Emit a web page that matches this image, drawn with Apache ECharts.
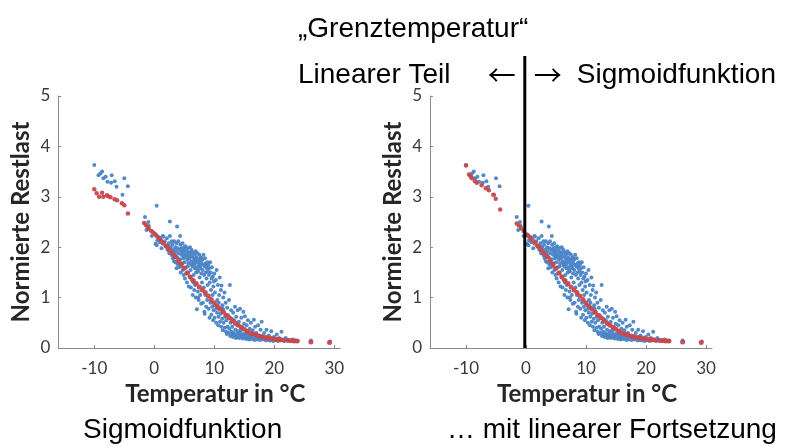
<!DOCTYPE html>
<html>
<head>
<meta charset="utf-8">
<script src="https://cdn.jsdelivr.net/npm/echarts@6/dist/echarts.min.js"></script>
<style>
  html, body { margin: 0; padding: 0; background: #ffffff; }
  #chart { width: 809px; height: 448px; }
</style>
</head>
<body>
<div id="chart"></div>
<script>
// Messwerte: Temperatur in °C, normierte Restlast
const messpunkte = [
  [-10,3.63],[-9.3,3.43],[-9.0,3.46],[-8.7,3.5],[-8.5,3.37],[-8.1,3.4],[-7.8,3.3],[-7.1,3.43],[-7.2,3.28],
  [-6.6,3.31],[-6.3,3.2],[-5.0,3.37],[-5.3,3.04],[-4.4,3.21],[-1.55,2.6],[-1.0,2.5],[-1.3,2.34],[-0.9,2.42],
  [-0.4,2.22],[0.4,2.82],[0.3,2.24],[0.2,2.07],[0.4,2.04],[0.95,2.18],[1.5,2.21],[2.6,2.51],[3.8,2.41],[4.3,2.22],
  [0.5,2.14],[0.9,2.1],[1.2,1.98],[1.4,2.22],[1.7,2.12],[1.9,2.02],[0.7,2.2],
  [2.1,2.18],[2.2,1.95],[2.4,2.08],[2.5,1.88],[2.6,2.22],[2.7,2.0],[2.8,1.92],[2.9,2.12],[2.3,2.02],[2.95,1.84],
  [3.0,2.05],[3.1,1.78],[3.2,1.95],[3.3,2.12],[3.4,1.86],[3.5,1.7],[3.5,2.0],[3.6,1.92],[3.7,2.08],[3.8,1.8],
  [3.9,1.66],[3.9,1.98],[3.3,1.72],[3.7,1.58],
  [4.0,2.12],[4.05,1.88],[4.1,1.6],[4.2,1.95],[4.3,1.76],[4.35,2.05],[4.4,1.5],[4.5,1.85],[4.55,1.98],[4.6,1.68],
  [4.7,2.08],[4.75,1.55],[4.8,1.9],[4.85,1.78],[4.9,1.45],[4.95,2.0],[4.2,1.68],[4.6,1.92],[4.45,1.62],[4.9,1.82],
  [5.0,1.95],[5.05,1.7],[5.1,1.38],[5.15,1.86],[5.2,2.02],[5.3,1.6],[5.35,1.8],[5.4,1.92],[5.45,1.3],[5.5,1.75],
  [5.55,1.98],[5.6,1.5],[5.65,1.85],[5.7,1.68],[5.75,1.22],[5.8,1.9],[5.85,1.78],[5.9,1.42],[5.95,2.0],[5.3,1.48],
  [5.6,1.62],[5.9,1.82],
  [6.0,1.88],[6.05,1.55],[6.1,1.2],[6.15,1.72],[6.2,1.95],[6.25,1.35],[6.3,1.82],[6.35,1.62],[6.4,1.05],[6.45,1.9],
  [6.5,1.7],[6.55,1.45],[6.6,1.78],[6.65,1.15],[6.7,1.86],[6.75,1.58],[6.8,1.25],[6.85,1.74],[6.9,1.92],[6.95,1.5],
  [6.2,1.66],[6.5,1.3],[6.7,1.66],[6.9,1.0],
  [7.0,1.8],[7.05,1.6],[7.1,0.77],[7.15,1.7],[7.2,1.88],[7.25,1.12],[7.3,1.52],[7.35,1.76],[7.4,0.95],[7.45,1.65],
  [7.5,1.85],[7.55,1.4],[7.6,1.72],[7.65,1.05],[7.7,1.58],[7.75,1.8],[7.8,0.88],[7.85,1.48],[7.9,1.68],[7.95,1.3],
  [7.3,1.0],[7.6,1.62],[7.9,1.78],[7.2,1.55],
  [8.0,1.75],[8.05,1.55],[8.1,0.9],[8.15,1.65],[8.2,1.85],[8.25,1.2],[8.3,1.45],[8.35,0.72],[8.4,1.62],[8.45,1.78],
  [8.5,1.05],[8.55,1.5],[8.6,1.68],[8.65,0.82],[8.7,1.38],[8.75,1.58],[8.8,0.95],[8.85,1.7],[8.9,1.25],[8.95,1.52],
  [8.4,0.68],[8.7,1.62],
  [9.0,1.65],[9.05,0.78],[9.1,1.45],[9.15,1.58],[9.2,0.6],[9.25,1.3],[9.3,1.7],[9.35,0.9],[9.4,1.5],[9.45,1.15],
  [9.5,0.66],[9.55,1.38],[9.6,1.6],[9.65,0.82],[9.7,1.05],[9.75,1.42],[9.8,0.55],[9.85,1.22],[9.9,0.75],[9.95,1.32],
  [10.0,1.48],[10.05,0.6],[10.1,1.1],[10.2,0.85],[10.25,1.35],[10.3,0.5],[10.4,1.55],[10.45,0.7],[10.5,0.95],
  [10.6,1.25],[10.65,0.45],[10.7,0.62],[10.8,1.05],[10.85,0.8],[10.9,1.4],[10.95,0.52],[10.35,0.78],[10.75,0.9],
  [11.0,0.68],[11.1,1.15],[11.15,0.42],[11.2,1.24],[11.3,0.58],[11.35,0.85],[11.4,0.35],[11.5,1.0],[11.55,0.5],
  [11.6,0.72],[11.7,1.1],[11.75,0.4],[11.8,0.62],[11.9,0.9],[11.95,0.32],[11.45,0.78],
  [12.0,0.55],[12.1,0.28],[12.15,0.8],[12.2,0.42],[12.3,0.65],[12.35,0.3],[12.45,0.95],[12.5,0.38],[12.6,1.25],
  [12.65,0.24],[12.7,0.5],[12.8,0.75],[12.85,0.32],[12.9,0.58],[12.95,0.27],
  [13.0,0.42],[13.1,0.22],[13.15,0.7],[13.2,0.3],[13.3,0.55],[13.35,0.25],[13.45,0.82],[13.5,0.36],[13.6,0.2],
  [13.65,0.62],[13.7,0.28],[13.8,0.46],[13.85,0.22],[13.9,0.75],[13.95,0.33],
  [14.0,0.26],[14.1,0.52],[14.15,0.2],[14.3,0.78],[14.35,0.3],[14.45,0.22],[14.5,0.6],[14.6,0.25],[14.7,0.4],
  [14.75,0.19],[14.85,0.72],[14.9,0.28],[14.95,0.48],[14.4,0.35],
  [15.0,0.22],[15.1,0.63],[15.2,0.27],[15.3,0.18],[15.4,0.45],[15.5,0.21],[15.6,0.55],[15.7,0.25],[15.8,0.17],
  [15.9,0.38],[15.35,0.3],[15.75,0.2],
  [16.0,0.24],[16.1,0.5],[16.25,0.18],[16.4,0.35],[16.5,0.22],[16.6,0.56],[16.7,0.16],[16.8,0.42],[16.9,0.2],[16.45,0.28],
  [17.0,0.3],[17.15,0.17],[17.3,0.45],[17.45,0.21],[17.6,0.16],[17.7,0.36],[17.85,0.19],[17.9,0.52],[17.95,0.24],
  [18.1,0.17],[18.3,0.3],[18.45,0.2],[18.6,0.15],[18.7,0.36],[18.85,0.22],[18.95,0.16],
  [19.1,0.25],[19.3,0.15],[19.5,0.33],[19.65,0.18],[19.8,0.14],[19.95,0.22],
  [20.2,0.16],[20.4,0.27],[20.6,0.14],[20.8,0.2],[20.95,0.15],
  [21.2,0.32],[21.4,0.16],[21.7,0.14],[21.9,0.2],
  [22.3,0.16],[22.7,0.14],[23.1,0.17],[23.5,0.15],[23.9,0.14],
  [26.1,0.15],[29.3,0.13]
];

// Sigmoid-Modellwerte oberhalb der Grenztemperatur (beide Varianten)
const sigmoidWarm = [
  [1.5,2.08],[2.0,2.02],[2.5,1.95],[3.0,1.88],[3.5,1.81],[4.0,1.73],[4.5,1.66],[5.0,1.58],[5.5,1.49],[6.0,1.41],
  [6.5,1.34],[7.0,1.28],[7.5,1.21],[8.0,1.15],[8.5,1.1],[9.0,1.03],[9.5,0.96],[10.0,0.9],[10.5,0.83],[11.0,0.77],
  [11.5,0.71],[12.0,0.65],[12.5,0.6],[13.0,0.54],[13.5,0.49],[14.0,0.45],[14.5,0.41],[15.0,0.37],[15.5,0.33],
  [16.0,0.3],[16.5,0.28],[17.0,0.26],[17.5,0.24],[18.0,0.22],[18.5,0.21],[19.0,0.2],[19.5,0.19],[20.0,0.18],
  [20.5,0.17],[21.0,0.17],[21.5,0.16],[22.3,0.15],[22.8,0.15],[23.3,0.14],[23.8,0.14],[26.1,0.12],[29.2,0.11]
];

// reine Sigmoidfunktion im kalten Bereich
const sigmoidKalt = [
  [-10,3.15],[-9.6,3.07],[-9.2,3.0],[-8.7,3.08],[-8.5,3.0],[-7.9,3.03],[-7.7,3.01],[-7.3,2.99],[-6.6,2.95],
  [-6.2,2.93],[-5.4,2.87],[-5.0,2.83],[-4.4,2.67],[-1.7,2.48],[-1.4,2.44],[-1.1,2.4],[-0.9,2.36],[-0.5,2.32],
  [-0.2,2.29],[0.1,2.26],[0.4,2.22],[0.8,2.18],[1.1,2.14]
];

// lineare Fortsetzung unterhalb der Grenztemperatur
const linearKalt = [
  [-10,3.62],[-9.5,3.44],[-9.2,3.4],[-9.0,3.37],[-8.5,3.31],[-8.2,3.28],[-7.4,3.23],[-6.7,3.17],[-6.2,3.13],
  [-5.45,3.04],[-5.05,2.96],[-4.3,2.75],[-1.55,2.47],[-1.2,2.43],[-0.8,2.37],[-0.4,2.32],[0.1,2.25],[0.4,2.22],
  [0.7,2.19],[1.1,2.14]
];

const xTicks = [-10, 0, 10, 20, 30];
const grenztemperatur = -0.2;

const blau = '#4a84c6';
const rot = '#c9474b';
const achsenFarbe = '#8a8a8a';
const schrift = 'Lato, "Noto Sans", sans-serif';

function xAchse(gridIndex) {
  return {
    gridIndex: gridIndex,
    type: 'value',
    min: -16,
    max: 31,
    name: 'Temperatur in °C',
    nameLocation: 'middle',
    nameGap: 34,
    nameTextStyle: { fontFamily: schrift, fontWeight: 'bold', fontSize: 24, color: '#262626', verticalAlign: 'top', padding: [0, 0, 0, 32] },
    axisLine: { show: true, onZero: false, lineStyle: { color: achsenFarbe, width: 1 } },
    axisTick: { show: true, inside: true, length: 3, customValues: xTicks, lineStyle: { color: achsenFarbe } },
    axisLabel: { customValues: xTicks, margin: 12, fontFamily: schrift, fontSize: 17, color: '#3a3a3a' },
    splitLine: { show: false }
  };
}

function yAchse(gridIndex) {
  return {
    gridIndex: gridIndex,
    type: 'value',
    min: 0,
    max: 5,
    interval: 1,
    name: 'Normierte Restlast',
    nameLocation: 'middle',
    nameGap: 25,
    nameRotate: 90,
    nameTextStyle: { fontFamily: schrift, fontWeight: 'bold', fontSize: 24, color: '#262626' },
    axisLine: { show: true, onZero: false, lineStyle: { color: achsenFarbe, width: 1 } },
    axisTick: { show: true, inside: true, length: 3, lineStyle: { color: achsenFarbe } },
    axisLabel: { margin: 8, fontFamily: schrift, fontSize: 17, color: '#3a3a3a' },
    splitLine: { show: false }
  };
}

function punkte(name, data, achse, farbe, groesse) {
  return {
    name: name,
    type: 'scatter',
    xAxisIndex: achse,
    yAxisIndex: achse,
    data: data,
    symbol: 'circle',
    symbolSize: groesse,
    itemStyle: { color: farbe, opacity: 0.95 },
    silent: true,
    animation: false
  };
}

const textSchrift = '"Liberation Sans", Arial, sans-serif';
function text(id, inhalt, x, y, ausrichtung, font, groesse) {
  return {
    id: id,
    type: 'text',
    x: x,
    y: y,
    style: {
      text: inhalt,
      fontFamily: font || textSchrift,
      fontSize: groesse || 28,
      fill: '#000000',
      align: ausrichtung,
      verticalAlign: 'middle'
    }
  };
}

const chart = echarts.init(document.getElementById('chart'), null, { renderer: 'canvas' });
chart.setOption({
  backgroundColor: '#ffffff',
  animation: false,
  grid: [
    { left: 58.3, top: 96, width: 282, height: 252 },
    { left: 430, top: 96, width: 282, height: 252 }
  ],
  xAxis: [xAchse(0), xAchse(1)],
  yAxis: [yAchse(0), yAchse(1)],
  series: [
    punkte('Messwerte', messpunkte, 0, blau, 4),
    punkte('Sigmoid kalt', sigmoidKalt, 0, rot, 4.5),
    punkte('Sigmoid', sigmoidWarm, 0, rot, 5),
    punkte('Messwerte', messpunkte, 1, blau, 4),
    punkte('Linear', linearKalt, 1, rot, 4.5),
    punkte('Sigmoid', sigmoidWarm, 1, rot, 5)
  ]
});

// Grenztemperatur als senkrechte Linie, über den Diagrammrand hinaus bis zur Überschrift
const xLinie = chart.convertToPixel({ xAxisIndex: 1 }, grenztemperatur);
const yBoden = chart.convertToPixel({ yAxisIndex: 1 }, 0);
chart.setOption({
  graphic: [
    text('titel', '„Grenztemperatur“', 298, 29, 'left'),
    text('linear', 'Linearer Teil', 298, 75, 'left'),
    text('pfeilLinks', '←', xLinie - 9, 75, 'right', '"Noto Sans CJK SC", sans-serif', 28),
    text('pfeilRechts', '→', xLinie + 9, 75, 'left', '"Noto Sans CJK SC", sans-serif', 28),
    text('sigmoid', 'Sigmoidfunktion', 776, 75, 'right'),
    text('untenLinks', 'Sigmoidfunktion', 83, 430, 'left'),
    text('untenRechts', '… mit linearer Fortsetzung', 447, 430, 'left'),
    { id: 'grenze', type: 'line', z: 100, shape: { x1: xLinie, y1: 56, x2: xLinie, y2: yBoden }, style: { stroke: '#000000', lineWidth: 3 } }
  ]
});
</script>
</body>
</html>
